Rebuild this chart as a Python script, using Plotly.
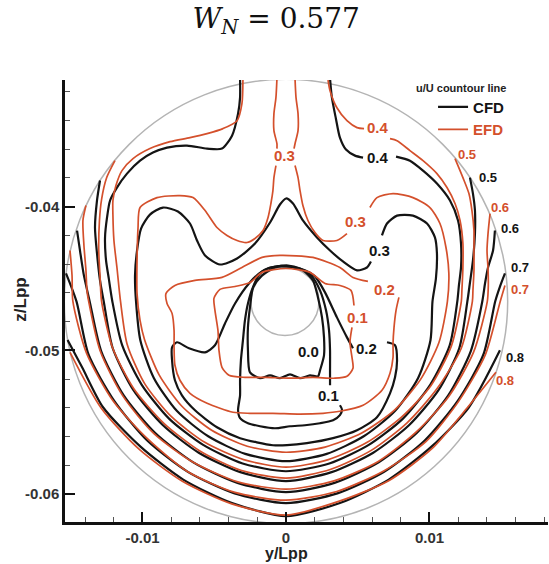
import plotly.graph_objects as go

# Wake-field contours of u/U in the propeller plane.
# Coordinates are (y/Lpp, z/Lpp) in units of 1e-3; None splits a line into pieces.

cfd_00 = [(2.37, -51.40), (2.65, -50.35), (2.65, -49.10), (2.51, -47.71), (2.23, -46.32), (1.88, -45.14),
          (1.18, -44.44), (0.07, -44.17), (-1.11, -44.24), (-1.81, -44.65), (-2.30, -45.63), (-2.51, -47.01),
          (-2.65, -48.40), (-2.65, -50.00), (-2.51, -51.53), (-1.81, -51.94), (-1.11, -51.74), (-0.42, -51.94),
          (0.28, -51.67), (0.98, -51.94), (1.67, -51.74), (2.23, -51.81), (2.37, -51.40)]

cfd_01 = [(3.76, -53.82), (3.90, -54.10), (3.76, -54.51), (3.28, -54.86), (2.37, -55.07), (1.32, -55.21),
          (0.28, -55.28), (-0.77, -55.42), (-1.81, -55.28), (-2.65, -55.07), (-3.20, -54.72), (-3.34, -54.17),
          (-3.20, -53.13), (-3.20, -52.08), (-3.14, -50.69), (-3.00, -49.31), (-2.86, -47.92), (-2.65, -46.74),
          (-2.30, -45.63), (-1.67, -44.79), (-0.77, -44.24), (0.14, -44.10), (0.98, -44.31), (1.81, -44.86),
          (2.37, -45.83), (2.79, -47.22), (3.00, -48.61), (3.07, -50.00), (3.07, -51.39), (3.07, -52.43)]

cfd_02 = [(7.04, -49.44), (7.60, -49.65), (7.74, -50.69), (7.60, -51.88), (7.25, -52.99), (6.34, -54.65),
          (4.95, -55.56), (3.28, -56.11), (1.46, -56.46), (0.07, -56.60), (-0.91, -56.60), (-3.20, -56.11),
          (-4.81, -55.35), (-6.34, -54.17), (-7.25, -53.13), (-7.74, -52.08), (-7.94, -50.69), (-7.94, -49.79),
          (-7.60, -49.44), (-6.76, -49.86), (-5.64, -50.14), (-4.95, -49.65), (-4.25, -48.13), (-3.55, -46.74),
          (-2.58, -45.35), (-1.67, -44.51), (-0.77, -44.17), (0.28, -44.17), (1.32, -44.44), (2.02, -44.86),
          (2.72, -45.97), (3.55, -47.71), (4.25, -49.10), (4.67, -49.86)]

cfd_03 = [(6.69, -42.01), (7.04, -41.18), (7.74, -40.63), (8.85, -40.63), (9.83, -41.18), (10.38, -42.15),
          (10.52, -43.26), (10.45, -45.00), (10.21, -46.60), (10.07, -49.30), (9.21, -51.92), (7.61, -54.21),
          (5.42, -55.98), (2.84, -57.20), (0.00, -57.71), (-2.84, -57.20), (-5.42, -55.98), (-7.61, -54.21),
          (-9.21, -51.92), (-10.15, -49.30), (-10.45, -46.60), (-10.52, -44.79), (-10.38, -43.06),
          (-10.10, -41.53), (-9.48, -40.56), (-8.57, -40.07), (-7.53, -40.35), (-6.69, -41.18), (-6.20, -42.36),
          (-5.64, -43.40), (-4.60, -44.03), (-3.41, -43.61), (-2.16, -42.57), (-1.11, -41.11), (-0.42, -39.86),
          (0.00, -39.44), (0.49, -39.79), (1.18, -40.97), (2.16, -42.15), (3.07, -43.06), (3.97, -43.82),
          (4.95, -44.44), (5.64, -44.24), (5.92, -43.82)]

cfd_04 = [(3.07, -31.10), (3.20, -32.43), (3.48, -33.89), (3.76, -35.21), (4.18, -36.04), (4.81, -36.46),
          (5.37, -36.60), None,
          (7.67, -36.53), (8.64, -36.81), (9.55, -37.50), (10.52, -38.40), (11.43, -39.58), (11.99, -40.97),
          (12.20, -42.60), (12.20, -44.20), (12.05, -45.50), (11.94, -46.60), (11.41, -49.66), (10.05, -52.40),
          (8.15, -54.75), (5.77, -56.58), (3.02, -57.87), (0.00, -58.41), (-3.02, -57.87), (-5.77, -56.58),
          (-8.15, -54.75), (-10.05, -52.40), (-11.41, -49.66), (-12.10, -46.60), (-12.35, -45.00),
          (-12.54, -43.75), (-12.61, -42.15), (-12.47, -40.76), (-12.26, -39.58), (-11.78, -38.68),
          (-11.08, -37.71), (-10.17, -36.81), (-9.27, -36.25), (-8.29, -35.90), (-6.90, -35.76), (-5.50, -35.97),
          (-4.46, -35.97), (-3.76, -35.07), (-3.34, -33.54), (-3.20, -32.43), (-3.20, -31.10)]

cfd_05 = [(12.82, -37.99), (13.03, -39.10), (13.17, -40.28), (13.17, -41.88), (13.03, -43.75), (12.82, -45.30),
          (12.64, -46.60), (12.08, -49.84), (10.64, -52.75), (8.59, -55.19), (6.08, -57.12), (3.18, -58.47),
          (0.00, -59.10), (-3.18, -58.47), (-6.08, -57.12), (-8.59, -55.19), (-10.64, -52.75), (-12.08, -49.84),
          (-12.70, -46.60), (-12.96, -45.14), (-13.17, -43.26), (-13.31, -41.46), (-13.17, -39.58),
          (-12.96, -38.19)]

cfd_06 = [(14.56, -41.67), (14.43, -43.06), (14.08, -44.24), (13.87, -45.35), (13.68, -46.60), (12.88, -50.05),
          (11.31, -53.13), (9.13, -55.73), (6.46, -57.79), (3.38, -59.22), (0.00, -59.86), (-3.38, -59.22),
          (-6.46, -57.79), (-9.13, -55.73), (-11.31, -53.13), (-12.88, -50.05), (-13.68, -46.60),
          (-14.10, -44.70), (-14.35, -43.10), (-14.56, -41.67)]

cfd_07 = [(15.26, -44.65), (14.90, -45.60), (14.58, -46.60), (13.76, -50.29), (11.97, -53.51), (9.67, -56.27),
          (6.84, -58.45), (3.58, -59.95), (0.00, -60.63), (-3.58, -59.95), (-6.84, -58.45), (-9.67, -56.27),
          (-11.97, -53.51), (-13.76, -50.29), (-14.60, -46.60), (-15.33, -44.65)]

cfd_08 = [(14.91, -50.00), (12.75, -53.96), (10.12, -56.72), (7.16, -58.99), (3.76, -60.62), (0.00, -61.53),
          (-3.76, -60.62), (-7.16, -58.99), (-10.12, -56.72), (-12.75, -53.96), (-14.20, -51.20),
          (-15.22, -49.28)]

efd_01 = [(4.60, -48.40), (4.46, -49.44), (4.60, -50.49), (4.67, -51.25), (4.25, -51.81), (3.41, -51.94),
          (1.88, -51.88), (0.28, -51.94), (-1.46, -51.88), (-2.86, -51.88), (-3.97, -51.74), (-4.46, -51.18),
          (-4.67, -50.00), (-4.74, -48.61), (-4.95, -47.22), (-5.02, -46.39), (-4.60, -45.76), (-3.55, -45.56),
          (-2.51, -45.28), (-1.67, -44.58), (0.00, -44.31), (1.67, -44.58), (2.72, -45.35), (3.76, -45.49),
          (4.53, -45.83), (4.74, -46.88)]

efd_02 = [(7.87, -46.32), (7.67, -47.22), (7.53, -48.40), (7.46, -49.51), (7.46, -50.49), (7.25, -51.60),
          (6.69, -52.78), (5.37, -53.82), (3.76, -54.24), (2.58, -54.38), (0.98, -54.44), (-0.91, -54.38),
          (-2.51, -54.38), (-3.69, -54.31), (-5.50, -53.68), (-6.69, -52.99), (-7.39, -52.08), (-7.74, -51.04),
          (-7.80, -49.79), (-7.80, -48.61), (-7.94, -47.43), (-8.29, -46.74), (-8.36, -46.04), (-7.74, -45.49),
          (-6.34, -45.14), (-4.46, -44.93), (-3.07, -44.24), (-1.67, -43.54), (-0.42, -43.40), (1.88, -43.54),
          (3.76, -44.24), (4.67, -44.93), (5.71, -45.21)]

efd_03 = [(-0.63, -31.10), (-0.70, -32.43), (-0.84, -33.54), (-0.84, -34.72), (-0.63, -35.63), (-0.63, -35.97),
          None,
          (0.63, -31.10), (0.70, -32.43), (0.84, -33.54), (0.84, -34.72), (0.63, -35.63), (0.56, -35.97),
          None,
          (0.63, -37.15), (0.84, -37.99), (0.98, -38.89), (1.18, -39.93), (1.53, -40.97), (2.02, -41.81),
          (2.58, -42.36), (3.55, -42.36), (4.25, -41.88),
          None,
          (5.85, -40.07), (6.34, -39.38), (7.46, -39.10), (8.85, -39.38), (10.03, -40.07), (10.73, -41.18),
          (11.15, -42.85), (11.35, -44.65), (11.25, -46.60), (10.66, -49.46), (9.38, -52.02), (7.56, -54.16),
          (5.28, -55.75), (2.72, -56.73), (0.00, -57.09), (-2.70, -56.67), (-5.18, -55.56), (-7.27, -53.87),
          (-8.84, -51.71), (-9.86, -49.24), (-10.17, -47.92), (-10.38, -46.04), (-10.38, -43.75),
          (-10.31, -41.46), (-10.17, -40.07), (-8.99, -39.38), (-7.39, -39.24), (-6.48, -39.38), (-5.64, -40.28),
          (-4.81, -41.46), (-4.11, -42.01), (-3.41, -42.36), (-2.72, -42.50), (-2.16, -42.22), (-1.60, -41.67),
          (-1.25, -40.76), (-1.05, -39.79), (-0.91, -38.89), (-0.84, -37.99), (-0.70, -37.15)]

efd_04 = [(2.93, -31.20), (3.07, -31.94), (3.55, -33.13), (4.25, -34.03), (4.95, -34.51), (5.44, -34.58),
          None,
          (7.25, -35.28), (7.74, -35.42), (8.64, -36.11), (9.55, -36.81), (10.52, -37.71), (11.22, -38.68),
          (11.78, -39.79), (12.13, -40.97), (12.33, -42.57), (12.33, -44.24), (12.26, -45.83), (12.22, -46.60),
          (11.53, -49.69), (10.11, -52.44), (8.05, -54.65), (5.66, -56.40), (2.95, -57.60), (0.00, -58.13),
          (-2.95, -57.60), (-5.66, -56.40), (-8.00, -54.60), (-9.86, -52.30), (-11.07, -49.57), (-11.53, -46.60),
          (-11.78, -44.24), (-11.99, -42.36), (-12.06, -40.63), (-12.06, -39.58), (-11.85, -38.54),
          (-11.43, -37.50), (-10.66, -36.67), (-9.48, -35.97), (-8.08, -35.49), (-6.69, -35.21), (-5.50, -34.93),
          (-4.39, -34.58), (-3.41, -34.03), (-3.07, -32.85), (-3.00, -31.20)]

efd_05 = [(11.78, -36.67), (12.33, -37.99), (12.75, -39.10), (12.96, -40.28), (13.10, -41.67), (13.10, -43.06),
          (13.10, -44.44), (13.03, -45.83), (12.99, -46.60), (12.21, -49.87), (10.52, -52.68), (8.44, -55.04),
          (5.97, -56.94), (3.13, -58.27), (0.00, -58.89), (-3.15, -58.34), (-6.00, -57.00), (-8.49, -55.09),
          (-10.58, -52.71), (-12.08, -49.84), (-12.85, -46.60), (-12.95, -45.00), (-13.05, -43.00),
          (-13.00, -41.00), (-12.85, -39.50), (-12.50, -38.00), (-11.92, -36.81)]

efd_06 = [(14.22, -40.49), (14.08, -41.88), (14.01, -43.06), (14.08, -44.31), (14.10, -45.49), (14.03, -46.60),
          (13.08, -50.11), (11.37, -53.17), (9.08, -55.68), (6.43, -57.73), (3.35, -59.08), (0.00, -59.66),
          (-3.36, -59.15), (-6.46, -57.79), (-9.20, -55.80), (-11.37, -53.17), (-12.94, -50.07), (-13.75, -46.60),
          (-13.87, -45.83), (-13.94, -44.44), (-14.08, -42.71), (-14.15, -40.97), (-13.94, -39.93)]

efd_07 = [(15.26, -45.49), (14.93, -46.60), (13.89, -50.32), (12.03, -53.55), (9.75, -56.35), (6.81, -58.39),
          (3.54, -59.82), (0.00, -60.42), (-3.56, -59.88), (-6.84, -58.45), (-9.60, -56.20), (-12.03, -53.55),
          (-13.90, -50.20), (-14.85, -46.60), (-14.91, -44.79), (-15.05, -43.06)]

efd_08 = [(14.63, -51.53), (12.69, -53.93), (10.21, -56.81), (7.19, -59.05), (3.72, -60.49), (0.00, -61.46),
          (-3.78, -60.68), (-7.22, -59.11), (-10.26, -56.86), (-12.87, -54.03), (-15.05, -50.14)]

# In-line contour labels
cfd_label_text = ["0.0", "0.1", "0.2", "0.3", "0.4", "0.5", "0.6", "0.7", "0.8"]
cfd_label_y = [1.55, 2.99, 5.64, 6.55, 6.41, 14.08, 15.61, 16.31, 15.96]
cfd_label_z = [-50.10, -53.13, -49.86, -43.06, -36.60, -37.99, -41.53, -44.24, -50.49]

efd_label_text = ["0.1", "0.2", "0.3", "0.3", "0.4", "0.5", "0.6", "0.7", "0.8"]
efd_label_y = [4.95, 6.90, -0.07, 4.81, 6.41, 12.61, 14.91, 16.31, 15.26]
efd_label_z = [-47.71, -45.76, -36.46, -41.04, -34.51, -36.39, -40.07, -45.76, -52.08]

# Propeller disk and hub (centre y, centre z, radius), 1e-3 units
disk = (0.0, -46.60, 15.45)
hub = (-0.07, -46.60, 2.37)

UNIT = 1e-3
BLACK = "#141414"
RED = "#d4502c"
FONT = "Liberation Sans, Arial, sans-serif"

cfd_lines = [cfd_00, cfd_01, cfd_02, cfd_03, cfd_04, cfd_05, cfd_06, cfd_07, cfd_08]
efd_lines = [efd_01, efd_02, efd_03, efd_04, efd_05, efd_06, efd_07, efd_08]


def split_xy(points):
    xs = [None if p is None else p[0] * UNIT for p in points]
    ys = [None if p is None else p[1] * UNIT for p in points]
    return xs, ys


fig = go.Figure()

for group, lines, color, width in (("CFD", cfd_lines, BLACK, 2.2), ("EFD", efd_lines, RED, 1.7)):
    for i, pts in enumerate(lines):
        xs, ys = split_xy(pts)
        label = "<b>CFD</b>" if group == "CFD" else f"<b><span style='color:{RED}'>EFD</span></b>"
        fig.add_trace(go.Scatter(
            x=xs, y=ys, mode="lines", name=label, legendgroup=group, showlegend=(i == 0),
            line=dict(color=color, width=width, shape="spline", smoothing=0.7),
            connectgaps=False, hoverinfo="skip"))

# Disk outline and hub
for cy, cz, r in (disk, hub):
    fig.add_shape(type="circle", xref="x", yref="y", layer="below",
                  x0=(cy - r) * UNIT, x1=(cy + r) * UNIT, y0=(cz - r) * UNIT, y1=(cz + r) * UNIT,
                  line=dict(color="#b4b4b4", width=1.5))

annotations = []
for texts, ys, zs, color in ((cfd_label_text, cfd_label_y, cfd_label_z, BLACK),
                             (efd_label_text, efd_label_y, efd_label_z, RED)):
    for t, y, z in zip(texts, ys, zs):
        size = 13 if y > 12 else 15
        annotations.append(dict(x=y * UNIT, y=z * UNIT, xref="x", yref="y", text=f"<b>{t}</b>",
                                showarrow=False, font=dict(family=FONT, size=size, color=color)))

annotations += [
    dict(x=0.7226, y=0.982, xref="paper", yref="paper", xanchor="left", yanchor="middle",
         text="<b>u/U countour line</b>", showarrow=False, font=dict(family=FONT, size=11, color="#222")),
    dict(x=0.4596, y=-0.0705, xref="paper", yref="paper", xanchor="center", yanchor="middle",
         text="<b>y/Lpp</b>", showarrow=False, font=dict(family=FONT, size=16, color="#222")),
    dict(x=-0.092, y=0.502, xref="paper", yref="paper", xanchor="center", yanchor="middle",
         text="<b>z/Lpp</b>", textangle=-90, showarrow=False, font=dict(family=FONT, size=17, color="#222")),
]

axis_common = dict(showgrid=False, zeroline=False, showline=True, linecolor="#111", linewidth=2.5,
                   ticks="inside", ticklen=10, tickwidth=2, tickcolor="#111",
                   tickfont=dict(family=FONT, size=15, color="#333", weight="bold"),
                   minor=dict(ticks="inside", ticklen=5, tickwidth=1, tickcolor="#555", dtick=0.002))

fig.update_layout(
    width=549, height=564,
    margin=dict(l=65, r=1, t=80, b=42),
    paper_bgcolor="white", plot_bgcolor="white",
    title=dict(text="<i>W</i><sub><i>N</i></sub> = 0.577", x=0.503, y=0.968, xref="container",
               yref="container", xanchor="center", yanchor="middle",
               font=dict(family="DejaVu Serif, serif", size=28, color="#111")),
    xaxis=dict(range=[-15.40 * UNIT, 18.26 * UNIT], tickvals=[-0.01, 0, 0.01],
               ticktext=["-0.01", "0", "0.01"], **axis_common),
    yaxis=dict(range=[-61.94 * UNIT, -31.20 * UNIT], tickvals=[-0.06, -0.05, -0.04],
               ticktext=["-0.06", "-0.05", "-0.04"], **axis_common),
    showlegend=True,
    legend=dict(x=0.762, y=0.976, xanchor="left", yanchor="top", bgcolor="rgba(0,0,0,0)",
                font=dict(family=FONT, size=15, color=BLACK), itemwidth=30, tracegroupgap=0),
    annotations=annotations,
)

fig.write_html("out.html")
